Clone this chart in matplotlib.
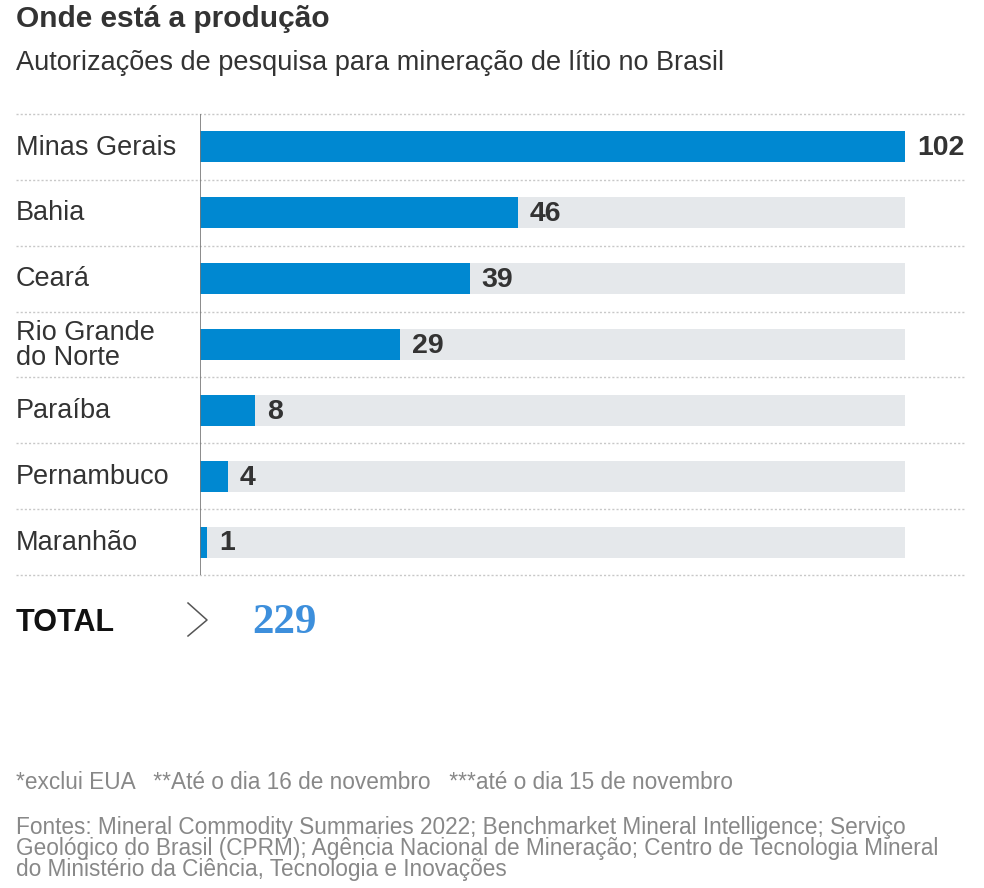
import matplotlib
matplotlib.use("Agg")
import matplotlib.pyplot as plt
from matplotlib.lines import Line2D

states = ["Minas Gerais", "Bahia", "Ceará", "Rio Grande\ndo Norte", "Paraíba", "Pernambuco", "Maranhão"]
values = [102, 46, 39, 29, 8, 4, 1]
total = 229

W, H = 984, 888
fig = plt.figure(figsize=(W / 100, H / 100), dpi=100)

def fx(px):
    return px / W

def fy(py):
    return 1 - py / H

sans = ["Liberation Sans", "DejaVu Sans"]

# axes placed so bars start at x=200 and max bar ends at x=905
left, right = 200, 905
top, bottom = 114, 575
ax = fig.add_axes([fx(left), fy(bottom), fx(right - left), (bottom - top) / H])
n = len(states)
ymax = max(values)
ax.set_xlim(0, ymax)
ax.set_ylim(n - 0.5, -0.5)
ypos = list(range(n))
ax.barh(ypos, [ymax] * n, height=0.47, color="#e5e8eb", zorder=1)
ax.barh(ypos, values, height=0.47, color="#0088d1", zorder=2)
for y, v in zip(ypos, values):
    ax.text(v + ymax * 0.017, y + 0.02, str(v), va="center", ha="left", fontsize=20.5,
            fontweight="bold", color="#333333", family=sans, zorder=3)
for y, s in zip(ypos, states):
    ax.text(-(left - 16) / (right - left) * ymax, y + 0.01, s, va="center", ha="left",
            fontsize=19.5, color="#333333", family=sans, linespacing=0.95)
# separators
x0 = (16 - left) / (right - left)
x1 = (964 - left) / (right - left)
trans = ax.get_yaxis_transform()
for yb in [i - 0.5 for i in range(n + 1)]:
    ax.plot([x0, x1], [yb, yb], transform=trans, color="#c8c8c8", lw=1,
            ls=(0, (1.5, 1.5)), clip_on=False, zorder=0)
ax.axvline(0, color="#777777", lw=1.2, zorder=4)
for s in ax.spines.values():
    s.set_visible(False)
ax.set_xticks([])
ax.set_yticks([])

# titles
fig.text(fx(16), fy(19), "Onde está a produção", fontsize=21.5, fontweight="bold",
         color="#333333", family=sans, va="center", ha="left")
fig.text(fx(16), fy(63), "Autorizações de pesquisa para mineração de lítio no Brasil",
         fontsize=19.5, color="#333333", family=sans, va="center", ha="left")

# total row
fig.text(fx(16), fy(623), "TOTAL", fontsize=22, fontweight="bold", color="#111111",
         family=sans, va="center", ha="left")
fig.add_artist(Line2D([fx(188), fx(207), fx(188)], [fy(603), fy(620), fy(636)],
                      transform=fig.transFigure, color="#555555", lw=1.1))
fig.text(fx(252), fy(623), str(total), fontsize=31, fontweight="bold", color="#3d8fdc",
         family=["Liberation Serif", "DejaVu Serif"], va="center", ha="left")

# footnotes
fig.text(fx(16), fy(782), "*exclui EUA   **Até o dia 16 de novembro   ***até o dia 15 de novembro",
         fontsize=16.3, color="#888888", family=sans, va="center", ha="left")
fig.text(fx(16), fy(816),
         "Fontes: Mineral Commodity Summaries 2022; Benchmarket Mineral Intelligence; Serviço\n"
         "Geológico do Brasil (CPRM); Agência Nacional de Mineração; Centro de Tecnologia Mineral\n"
         "do Ministério da Ciência, Tecnologia e Inovações",
         fontsize=16.3, color="#888888", family=sans, va="top", ha="left", linespacing=0.9)

fig.savefig("out.png", dpi=100, facecolor="white")
